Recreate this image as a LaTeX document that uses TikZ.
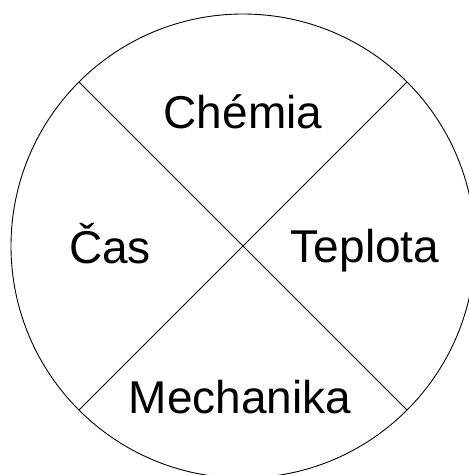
\documentclass[tikz,border=0pt]{standalone}
\usepackage{fontspec}
\setmainfont{Liberation Sans}
\begin{document}
\begin{tikzpicture}[x=1pt, y=-1pt,
    field/.style={anchor=base, font=\fontsize{46}{50}\selectfont}]
    \useasboundingbox (0,0) rectangle (469,475);
    % kruh
    \node[draw, circle, line width=0.9pt, minimum size=464pt, inner sep=0pt, outer sep=0pt] (kruh) at (243,246) {};
    % uhlopriecky
    \draw[line width=0.9pt] (kruh.135) -- (kruh.-45);
    \draw[line width=0.9pt] (kruh.45) -- (kruh.-135);
    % oblasti
    \node[field] (chemia) at (243,128) {Chémia};
    \node[field] (cas) at (110,263) {Čas};
    \node[field] (teplota) at (365,262) {Teplota};
    \node[field] (mechanika) at (240,413) {Mechanika};
\end{tikzpicture}
\end{document}
